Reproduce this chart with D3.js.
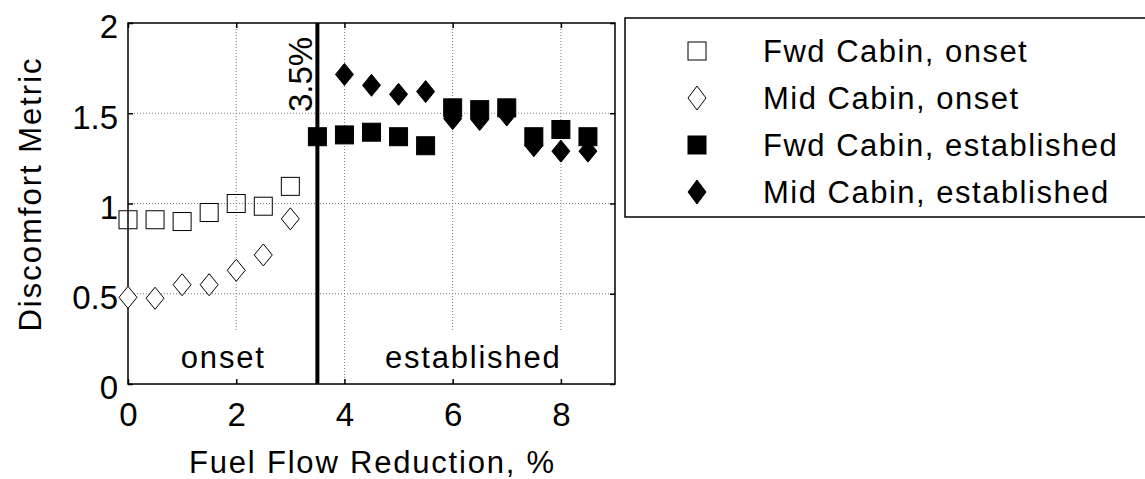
<!DOCTYPE html>
<html><head><meta charset="utf-8">
<script src="https://cdn.jsdelivr.net/npm/d3@7"></script>
<style>
body{margin:0;background:#fff;}
svg{display:block;font-family:"Liberation Sans",Arial,sans-serif;}
</style></head>
<body><svg id="c" width="1145" height="479"></svg>
<script>
// ---- data ----
const xOnset = [0, 0.5, 1, 1.5, 2, 2.5, 3];
const fwdOnset = [0.91, 0.91, 0.90, 0.95, 1.00, 0.985, 1.095];
const midOnset = [0.48, 0.475, 0.55, 0.55, 0.63, 0.715, 0.915];
const xFwdEst = [3.5, 4, 4.5, 5, 5.5, 6, 6.5, 7, 7.5, 8, 8.5];
const fwdEst = [1.37, 1.38, 1.395, 1.37, 1.32, 1.53, 1.52, 1.53, 1.37, 1.41, 1.37];
const xMidEst = [4, 4.5, 5, 5.5, 6, 6.5, 7, 7.5, 8, 8.5];
const midEst = [1.715, 1.655, 1.605, 1.62, 1.47, 1.465, 1.49, 1.32, 1.29, 1.29];
const xTicks = [0, 2, 4, 6, 8];
const yTicks = [0, 0.5, 1, 1.5, 2];
const yTickLabels = ["0", "0.5", "1", "1.5", "2"];
const legendLabels = ["Fwd Cabin, onset", "Mid Cabin, onset", "Fwd Cabin, established", "Mid Cabin, established"];
const threshold = 3.5;

const svg = d3.select("#c");
const L = 128, T = 23, R = 615, B = 384;
const x = d3.scaleLinear().domain([0, 9]).range([L, R]);
const y = d3.scaleLinear().domain([0, 2]).range([B, T]);

// grid
const grid = svg.append("g").attr("stroke", "#7a7a7a").attr("stroke-width", 1).attr("stroke-dasharray", "1,2");
grid.selectAll("line.gx").data(xTicks.filter(d => d > 0)).join("line")
  .attr("x1", d => x(d)).attr("x2", d => x(d)).attr("y1", T).attr("y2", B);
grid.selectAll("line.gy").data(yTicks.filter(d => d > 0 && d < 2)).join("line")
  .attr("x1", L).attr("x2", R).attr("y1", d => y(d)).attr("y2", d => y(d));

// annotation text boxes (white background)
function boxedText(xv, label) {
  const g = svg.append("g");
  const t = g.append("text").attr("x", x(xv)).attr("y", 368).attr("text-anchor", "middle")
    .attr("font-size", 31).attr("letter-spacing", 1.8).text(label);
  const bb = t.node().getBBox();
  g.insert("rect", "text").attr("x", bb.x - 2).attr("y", 330).attr("width", bb.width + 4)
    .attr("height", B - 331).attr("fill", "#fff");
}
boxedText(1.76, "onset");
boxedText(6.38, "established");

// axes
const fmtY = d => yTickLabels[yTicks.indexOf(d)];
const ax = svg.append("g").attr("transform", `translate(0,${B})`)
  .call(d3.axisBottom(x).tickValues(xTicks).tickSizeInner(-5).tickSizeOuter(0).tickPadding(19));
const axT = svg.append("g").attr("transform", `translate(0,${T})`)
  .call(d3.axisTop(x).tickValues(xTicks).tickSizeInner(-5).tickSizeOuter(0).tickFormat(""));
const ay = svg.append("g").attr("transform", `translate(${L},0)`)
  .call(d3.axisLeft(y).tickValues(yTicks).tickFormat(fmtY).tickSizeInner(-5).tickSizeOuter(0).tickPadding(10));
const ayR = svg.append("g").attr("transform", `translate(${R},0)`)
  .call(d3.axisRight(y).tickValues(yTicks).tickSizeInner(-5).tickSizeOuter(0).tickFormat(""));
[ax, axT, ay, ayR].forEach(a => {
  a.select(".domain").remove();
  a.selectAll(".tick line").attr("stroke", "#000").attr("stroke-width", 1.5);
  a.selectAll("text").attr("font-size", 33).attr("fill", "#000").attr("font-family", "Liberation Sans, Arial, sans-serif");
});
ay.selectAll("text").attr("dy", "0.45em");
svg.append("rect").attr("x", L).attr("y", T).attr("width", R - L).attr("height", B - T)
  .attr("fill", "none").attr("stroke", "#000").attr("stroke-width", 1.5);

// threshold line
svg.append("line").attr("x1", x(threshold)).attr("x2", x(threshold)).attr("y1", T).attr("y2", B)
  .attr("stroke", "#000").attr("stroke-width", 4);
svg.append("text").attr("transform", `translate(${x(threshold) - 5},112) rotate(-90)`)
  .attr("font-size", 33).text(threshold + "%");

// markers
const sq = 18, dw = 9, dh = 11;
const diamond = (w, h) => `M0,${-h}L${w},0L0,${h}L${-w},0Z`;
function squares(xs, ys, filled) {
  svg.append("g").selectAll("rect").data(xs).join("rect")
    .attr("x", (d) => x(d) - sq / 2).attr("y", (d, i) => y(ys[i]) - sq / 2)
    .attr("width", sq).attr("height", sq)
    .attr("fill", filled ? "#000" : "none").attr("stroke", "#000").attr("stroke-width", 1);
}
function diamonds(xs, ys, filled) {
  svg.append("g").selectAll("path").data(xs).join("path")
    .attr("transform", (d, i) => `translate(${x(d)},${y(ys[i])})`)
    .attr("d", diamond(dw, dh))
    .attr("fill", filled ? "#000" : "#fff").attr("stroke", "#000").attr("stroke-width", 1);
}
squares(xOnset, fwdOnset, false);
diamonds(xOnset, midOnset, false);
squares(xFwdEst, fwdEst, true);
diamonds(xMidEst, midEst, true);

// axis labels
svg.append("text").attr("x", x(4.5) + 1).attr("y", 473).attr("text-anchor", "middle")
  .attr("font-size", 31).attr("letter-spacing", 1.8).text("Fuel Flow Reduction, %");
svg.append("text").attr("transform", "translate(41,194) rotate(-90)").attr("text-anchor", "middle")
  .attr("font-size", 31).attr("letter-spacing", 2).text("Discomfort Metric");

// legend
svg.append("rect").attr("x", 625).attr("y", 18).attr("width", 540).attr("height", 199)
  .attr("fill", "#fff").attr("stroke", "#000").attr("stroke-width", 1.5);
const lg = svg.append("g");
const baselines = [62, 109, 156, 203];
legendLabels.forEach((lab, i) => {
  const cy = baselines[i] - 11, cx = 697;
  if (i % 2 === 0) {
    lg.append("rect").attr("x", cx - 9).attr("y", cy - 9).attr("width", 18).attr("height", 18)
      .attr("fill", i === 2 ? "#000" : "#fff").attr("stroke", "#000").attr("stroke-width", 1);
  } else {
    lg.append("path").attr("transform", `translate(${cx},${cy})`).attr("d", diamond(9, 12))
      .attr("fill", i === 3 ? "#000" : "#fff").attr("stroke", "#000").attr("stroke-width", 1);
  }
  lg.append("text").attr("x", 763).attr("y", baselines[i]).attr("font-size", 31)
    .attr("letter-spacing", 1.5).text(lab);
});
</script></body></html>
